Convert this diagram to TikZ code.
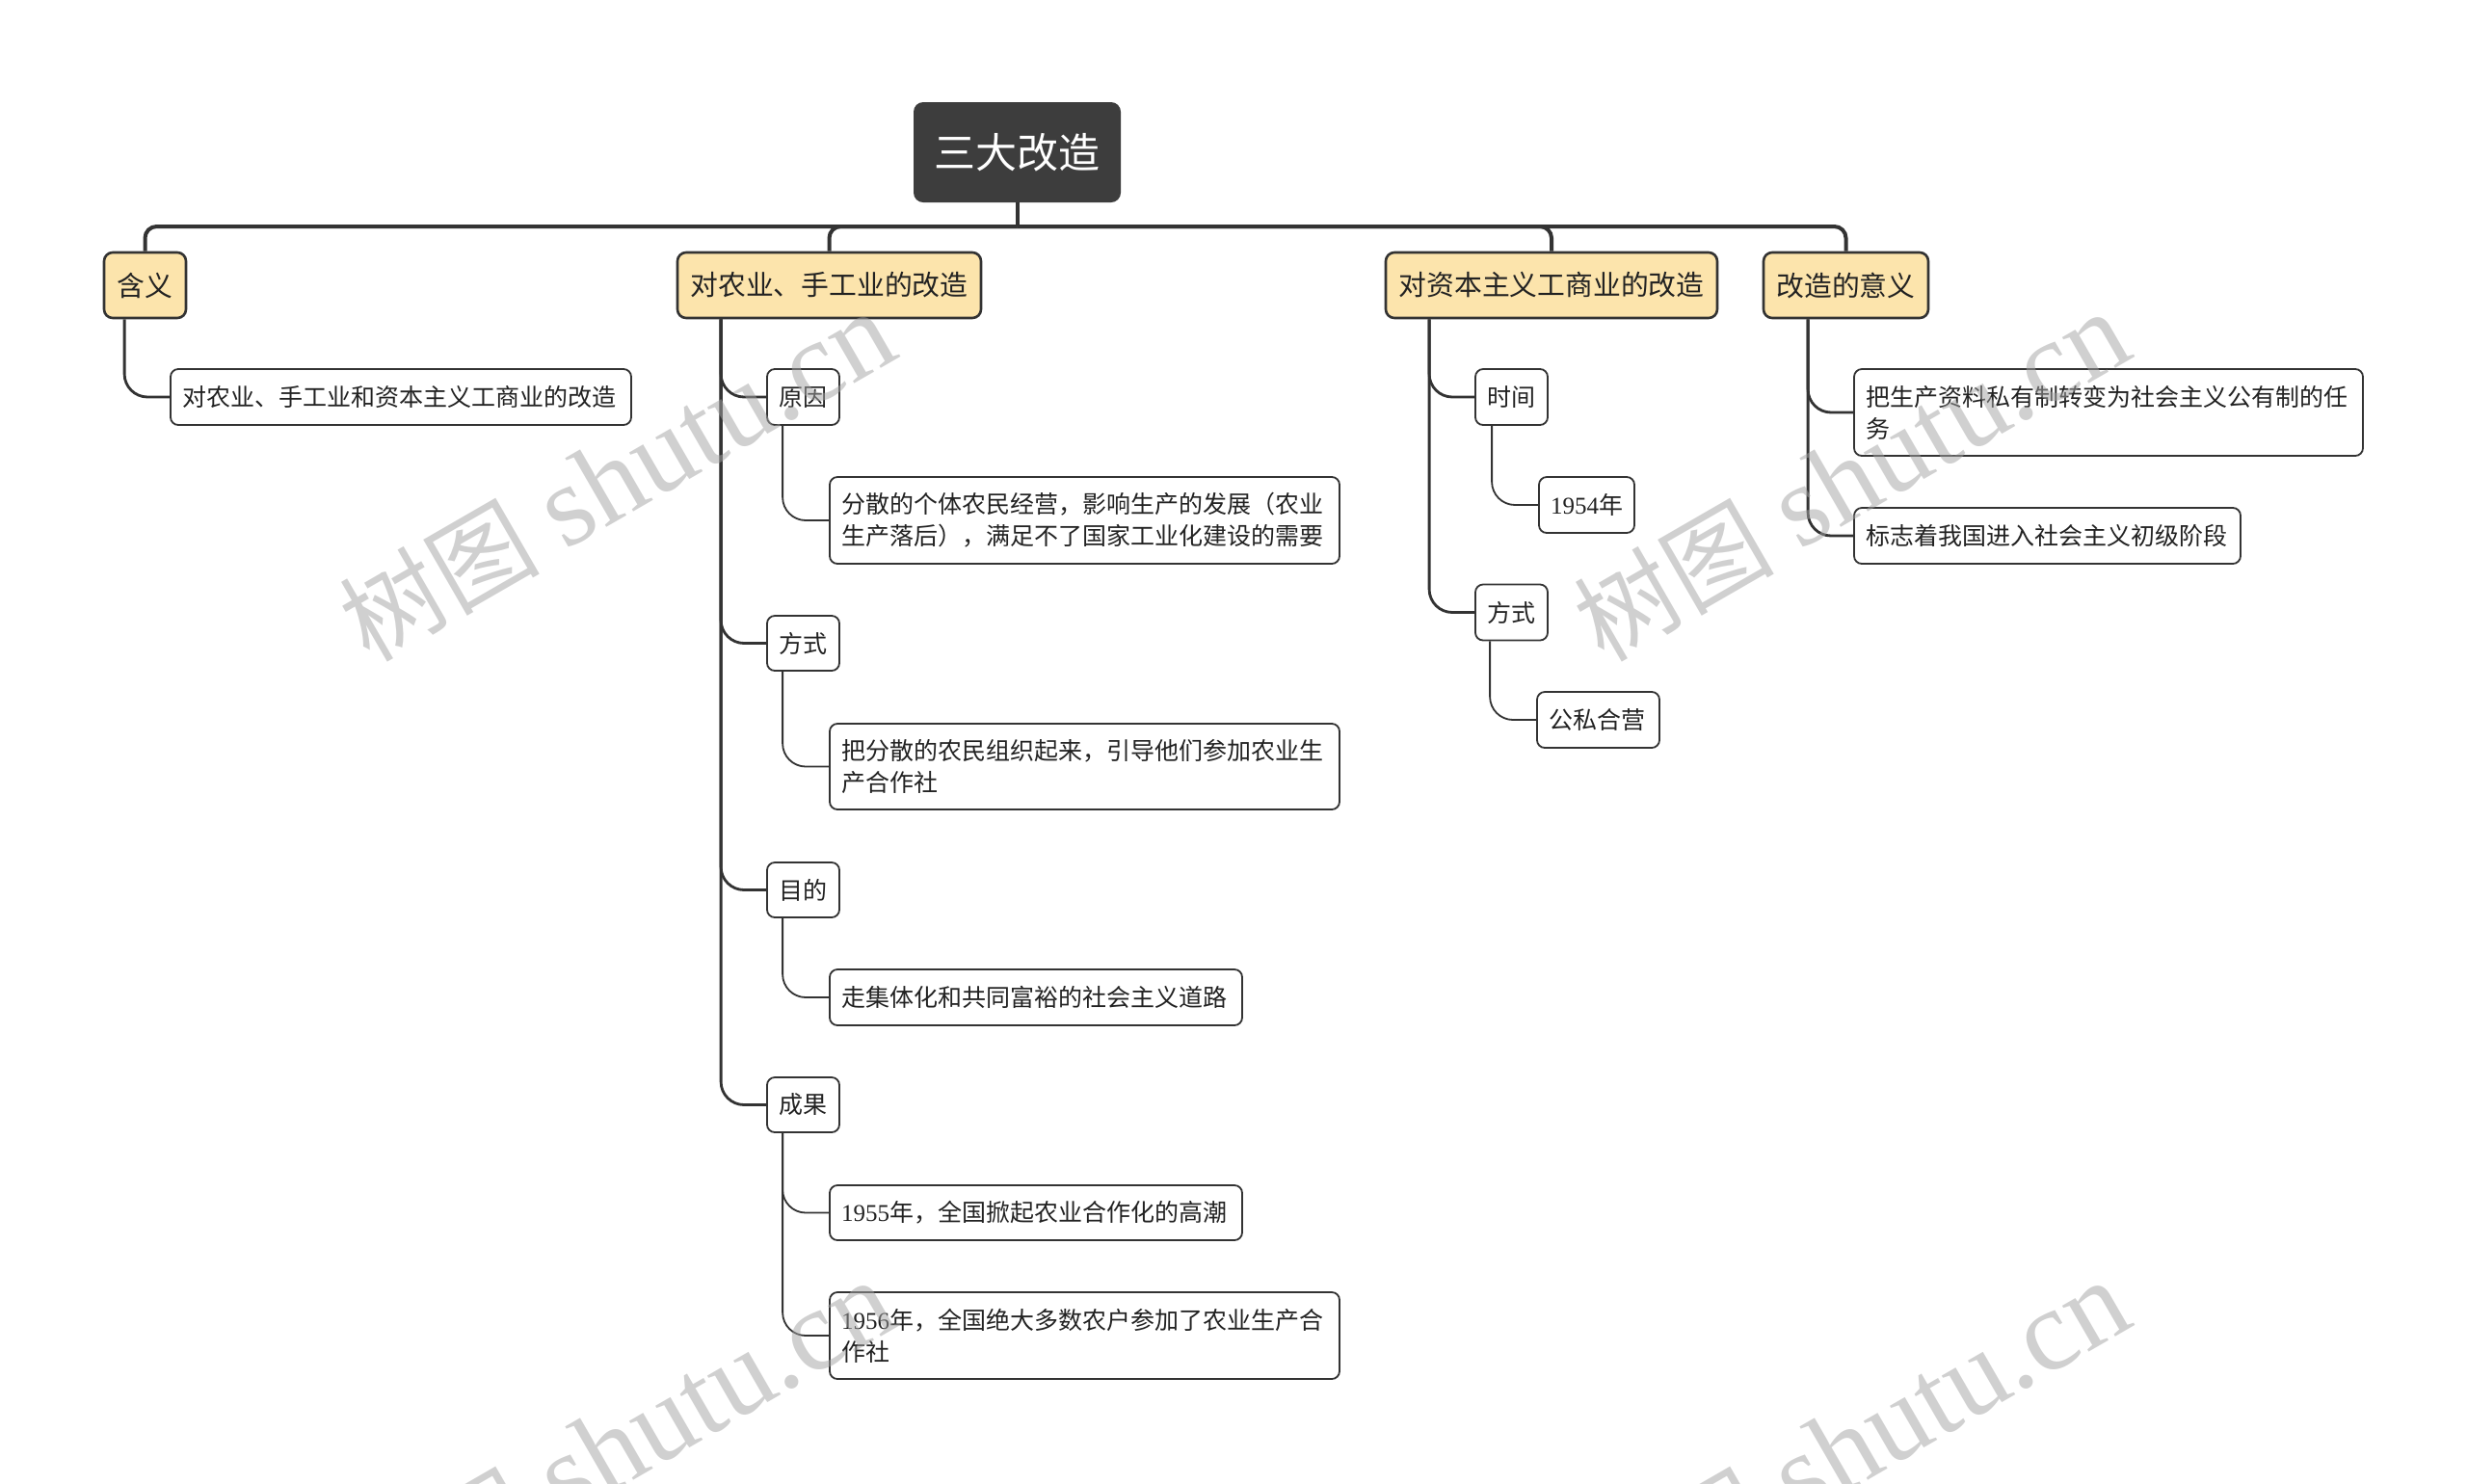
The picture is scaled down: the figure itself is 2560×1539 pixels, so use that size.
\documentclass[tikz,border=0pt]{standalone}
\usepackage{fontspec}
\setmainfont{Noto Sans CJK SC}
\newfontfamily\lser{Liberation Serif}
\usetikzlibrary{calc}
\definecolor{linec}{HTML}{333333}
\definecolor{rootc}{HTML}{3D3D3D}
\definecolor{lonec}{HTML}{FCE4AC}
\definecolor{txtc}{HTML}{222222}
\definecolor{wmc}{HTML}{A3A3A3}
\newcommand{\wmtext}{{\fontsize{52}{52}\selectfont 树图} {\lser shutu.cn}}
\tikzset{
 rootbox/.style={draw=none, fill=rootc, rounded corners=5pt, text=white,
   font=\fontsize{21.5}{26}\selectfont, inner sep=0pt,
   minimum width=107.5pt, minimum height=52pt},
 topicbox/.style={draw=linec, line width=1.3pt, fill=lonec, rounded corners=4.5pt,
   text=txtc, font=\fontsize{14.4}{18}\selectfont, inner sep=0pt, minimum height=34pt},
 leafbox/.style={draw=linec, line width=0.9pt, fill=white, rounded corners=4pt,
   text=txtc, font=\fontsize{12.5}{16.5}\selectfont, inner xsep=6pt, inner ysep=0pt,
   align=left},
 bus/.style={draw=linec, line width=2pt, rounded corners=6pt},
 trunk/.style={draw=linec, line width=1.4pt, rounded corners=12pt},
 twig/.style={draw=linec, line width=0.9pt, rounded corners=12pt},
 wmark/.style={text=wmc, text opacity=0.5, font=\fontsize{60}{60}\selectfont,
   inner sep=0pt, anchor=base west, rotate=30}
}
\begin{document}
\begin{tikzpicture}[x=0.5pt,y=-0.5pt]
\useasboundingbox (0,0) rectangle (2560,1539);
\fill[white] (0,0) rectangle (2560,1539);

% root
\node[rootbox] (R) at (1055.5,158) {三大改造};
\coordinate (busy) at (0,235);

% level 1
\node[topicbox, minimum width=42.5pt] (A) at (150.5,296) {含义};
\node[topicbox, minimum width=157.5pt] (B) at (860.5,296) {对农业、手工业的改造};
\node[topicbox, minimum width=172pt] (C) at (1610,296) {对资本主义工商业的改造};
\node[topicbox, minimum width=85.5pt] (D) at (1915.5,296) {改造的意义};

% level 2/3
\node[leafbox, text width=227pt, minimum height=29pt] (A1) at (416,412) {对农业、手工业和资本主义工商业的改造};

\node[leafbox, text width=25.5pt, minimum height=29pt] (B1) at (833.5,412) {原因};
\node[leafbox, text width=252.5pt, minimum height=45pt] (B1a) at (1125.5,540) {分散的个体农民经营，影响生产的发展（农业\\生产落后），满足不了国家工业化建设的需要};
\node[leafbox, text width=25.5pt, minimum height=28.5pt] (B2) at (833.5,667.5) {方式};
\node[leafbox, text width=252.5pt, minimum height=44.5pt] (B2a) at (1125.5,795.5) {把分散的农民组织起来，引导他们参加农业生\\产合作社};
\node[leafbox, text width=25.5pt, minimum height=28.5pt] (B3) at (833.5,923.5) {目的};
\node[leafbox, text width=202pt, minimum height=29pt] (B3a) at (1075,1035) {走集体化和共同富裕的社会主义道路};
\node[leafbox, text width=25.5pt, minimum height=28.5pt] (B4) at (833.5,1146.5) {成果};
\node[leafbox, text width=202pt, minimum height=28.5pt] (B4a) at (1075,1258.5) {{\lser 1955}年，全国掀起农业合作化的高潮};
\node[leafbox, text width=252.5pt, minimum height=45pt] (B4b) at (1125.5,1386) {{\lser 1956}年，全国绝大多数农户参加了农业生产合\\作社};

\node[leafbox, text width=25.5pt, minimum height=29pt] (C1) at (1568.5,412) {时间};
\node[leafbox, text width=37.5pt, minimum height=29pt] (C1a) at (1646.5,524) {{\lser 1954}年};
\node[leafbox, text width=25.5pt, minimum height=29pt] (C2) at (1568.5,635.5) {方式};
\node[leafbox, text width=51.5pt, minimum height=29pt] (C2a) at (1658.5,747) {公私合营};

\node[leafbox, text width=252pt, minimum height=45pt] (D1) at (2188,428) {把生产资料私有制转变为社会主义公有制的任\\务};
\node[leafbox, text width=188.5pt, minimum height=29pt] (D2) at (2124.5,556) {标志着我国进入社会主义初级阶段};

% bus
\draw[bus] (R.south) -- (R.south |- busy);
\foreach \n in {A,B,C,D}{
  \draw[bus] (R.south |- busy) -| (\n.north);
}

% trunks (level 1 -> level 2)
\foreach \p/\c in {A/A1,B/B1,B/B2,B/B3,B/B4,C/C1,C/C2,D/D1,D/D2}{
  \coordinate (t\c) at ($(\c.west)+(-47,0)$);
  \draw[trunk] (\p.south -| t\c) |- (\c.west);
}

% twigs (level 2 -> level 3)
\foreach \p/\c in {B1/B1a,B2/B2a,B3/B3a,B4/B4a,B4/B4b,C1/C1a,C2/C2a}{
  \coordinate (u\c) at ($(\c.west)+(-48,0)$);
  \draw[twig] (\p.south -| u\c) |- (\c.west);
}

% watermarks
\node[wmark] (wm1) at (383,689) {\wmtext};
\node[wmark] (wm2) at (1664,689) {\wmtext};
\node[wmark] (wm3) at (383,1694) {\wmtext};
\node[wmark] (wm4) at (1664,1694) {\wmtext};
\end{tikzpicture}
\end{document}
